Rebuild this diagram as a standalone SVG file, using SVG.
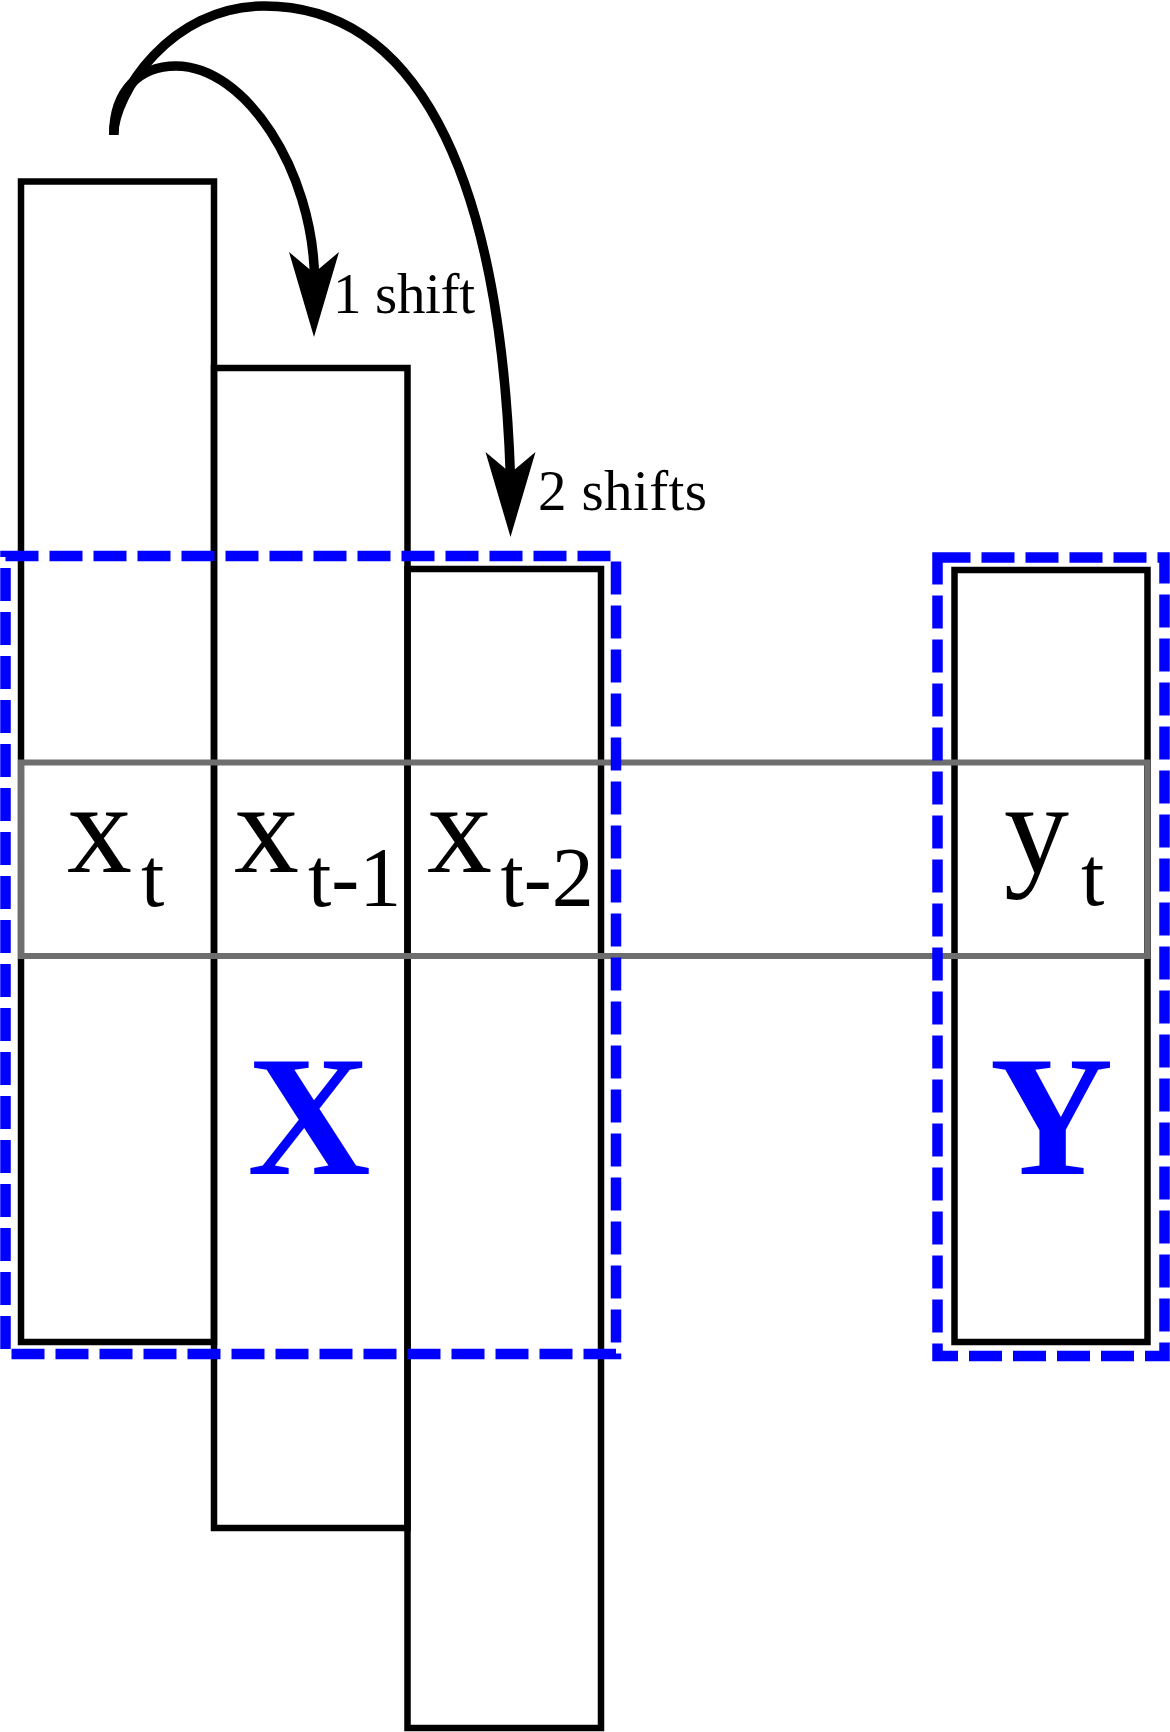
<svg xmlns="http://www.w3.org/2000/svg" xmlns:xlink="http://www.w3.org/1999/xlink" width="1170" height="1732" viewBox="0 0 1170 1732">
  <style>
    .col { fill: none; stroke: #000; stroke-width: 6.5; }
    .row { fill: none; stroke: #6e6e6e; stroke-width: 6; }
    .grp { fill: none; stroke: #0000ff; stroke-width: 10.5; stroke-dasharray: 33 11; }
    .conn { fill: none; stroke: #000; stroke-width: 9.5; }
    .lbl { font-family: "Liberation Serif", "Times New Roman", serif; fill: #000; }
    .big { font-family: "Liberation Serif", "Times New Roman", serif; font-weight: bold; font-size: 171px; fill: #0000ff; text-anchor: middle; }
    .shift { font-family: "Liberation Serif", "Times New Roman", serif; font-size: 57px; fill: #000; }
  </style>
  <defs>
    <path id="arrowhead" d="M0,0 L-25,-85 L0,-64 L25,-85 Z" fill="#000"/>
  </defs>
  <rect width="1170" height="1732" fill="#fff"/>

  <g id="col-x-t">
    <rect class="col" x="21" y="181.5" width="193" height="1160.5"/>
  </g>
  <g id="col-x-t-1">
    <rect class="col" x="214" y="368" width="193.5" height="1160"/>
  </g>
  <g id="col-x-t-2">
    <rect class="col" x="407.5" y="569" width="193.5" height="1159"/>
  </g>
  <g id="col-y-t">
    <rect class="col" x="954.5" y="570" width="193" height="772"/>
  </g>

  <g id="row-t">
    <rect class="row" x="21" y="762.5" width="1126.5" height="193.5"/>
    <text class="lbl"><tspan x="67" y="872" font-size="130">x</tspan><tspan x="141" y="906" font-size="84">t</tspan></text>
    <text class="lbl"><tspan x="234" y="872" font-size="130">x</tspan><tspan x="308" y="906" font-size="84">t-1</tspan></text>
    <text class="lbl"><tspan x="427" y="872" font-size="130">x</tspan><tspan x="500.5" y="906" font-size="84">t-2</tspan></text>
    <text class="lbl"><tspan x="1004" y="872" font-size="130">y</tspan><tspan x="1081" y="905" font-size="84">t</tspan></text>
  </g>

  <g id="group-X">
    <rect class="grp" x="5.5" y="556" width="610.5" height="798"/>
    <text class="big" x="309" y="1174">X</text>
  </g>
  <g id="group-Y">
    <rect class="grp" x="937.5" y="557.5" width="227" height="798.5"/>
    <text class="big" x="1051.5" y="1174">Y</text>
  </g>

  <g id="connectors">
    <g id="arrow-1-shift">
      <path class="conn" d="M113.7,135 C113.7,90 140,66 176,66 C245,66 313,170 314.5,278"/>
      <use xlink:href="#arrowhead" href="#arrowhead" transform="translate(314,337)"/>
      <text class="shift" x="333" y="313" textLength="142" lengthAdjust="spacing">1 shift</text>
    </g>
    <g id="arrow-2-shifts">
      <path class="conn" d="M113.7,135 C113.7,95 170,6 264,6 C410,6 500,160 510.5,478"/>
      <use xlink:href="#arrowhead" href="#arrowhead" transform="translate(510.5,537)"/>
      <text class="shift" x="538" y="509.5" textLength="169" lengthAdjust="spacing">2 shifts</text>
    </g>
  </g>
</svg>
